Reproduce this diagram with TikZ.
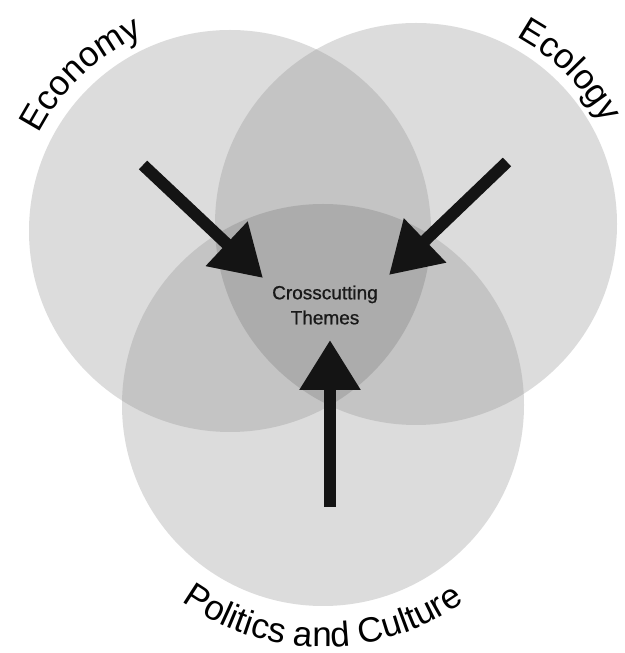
\documentclass[tikz,border=0pt]{standalone}
\usepackage{fontspec}
\setmainfont{Liberation Sans}
\newfontfamily\ctfont[FakeBold=0.8]{Liberation Sans}
\usetikzlibrary{arrows.meta,decorations.text}
\definecolor{one}{HTML}{DCDCDC}
\definecolor{two}{HTML}{C4C4C4}
\definecolor{three}{HTML}{ACACAC}
\newcommand\lblfont{\fontsize{35}{40}\selectfont}
\begin{document}
\begin{tikzpicture}[x=1pt,y=1pt,
  bigarrow/.style={line width=12pt, draw=black!92, -{Triangle[length=50pt,width=58pt]}},
  centertext/.style={font=\ctfont\fontsize{19}{25}\selectfont, align=center, text=black!90}]
\fill[white] (0,0) rectangle (624,653);
\useasboundingbox (0,0) rectangle (624,653);
\coordinate (L) at (230,422);
\coordinate (R) at (416,429);
\coordinate (B) at (323,248);
% single circles
\fill[one] (L) circle[radius=201pt];
\fill[one] (R) circle[radius=201pt];
\fill[one] (B) circle[radius=201pt];
% pairwise overlaps
\begin{scope}
  \clip (L) circle[radius=201pt];
  \fill[two] (R) circle[radius=201pt];
  \fill[two] (B) circle[radius=201pt];
\end{scope}
\begin{scope}
  \clip (R) circle[radius=201pt];
  \fill[two] (B) circle[radius=201pt];
\end{scope}
% triple overlap
\begin{scope}
  \clip (L) circle[radius=201pt];
  \clip (R) circle[radius=201pt];
  \fill[three] (B) circle[radius=201pt];
\end{scope}
% labels along arcs
\path[decorate, decoration={text along path, text align=center, text={|\lblfont|Economy}}]
  ([shift={(175:214pt)}]L) arc[start angle=175, end angle=92, radius=214pt];
\path[decorate, decoration={text along path, text align=center, text={|\lblfont|Ecology}}]
  ([shift={(85:212pt)}]R) arc[start angle=85, end angle=5, radius=212pt];
\path[decorate, decoration={text along path, text align=center, text={|\lblfont|Politics and Culture}}]
  ([shift={(215:242pt)}]B) arc[start angle=215, end angle=325, radius=242pt];
% center text
\node[centertext] (ct) at (325,348) {Crosscutting\\Themes};
% arrows
\coordinate (ecoTail) at (143,488);
\coordinate (ecoTip) at (263,375);
\coordinate (ecgTail) at (507,491);
\coordinate (ecgTip) at (389,378);
\coordinate (polTail) at (330,146);
\coordinate (polTip) at (330,313);
\draw[bigarrow] (ecoTail) -- (ecoTip);
\draw[bigarrow] (ecgTail) -- (ecgTip);
\draw[bigarrow] (polTail) -- (polTip);
\end{tikzpicture}
\end{document}
